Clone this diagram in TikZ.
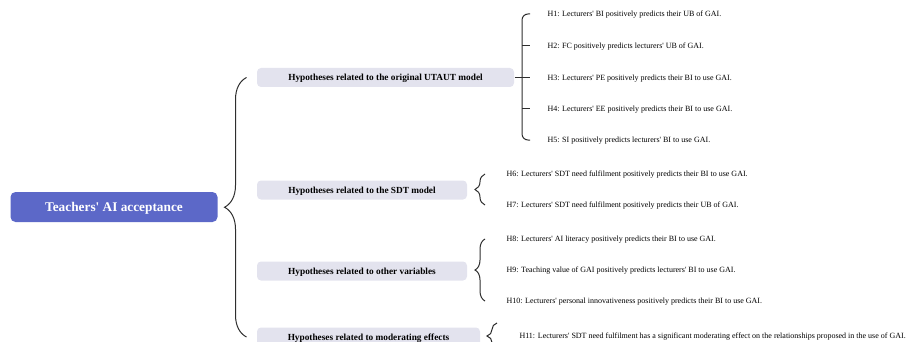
\documentclass[tikz,border=0pt]{standalone}
\usepackage{fontspec}
\setmainfont{Liberation Serif}[Ligatures=TeXOff]
\usetikzlibrary{decorations.pathreplacing,positioning}
\definecolor{rootblue}{HTML}{5C68C8}
\definecolor{hypgray}{HTML}{E3E3EE}
\definecolor{linegray}{HTML}{2E2E2E}

\begin{document}
\begin{tikzpicture}[x=1pt,y=-1pt,line width=1pt,
    rootbox/.style={fill=rootblue,rounded corners=5pt,minimum width=207pt,
      minimum height=30pt,text depth=0pt,text=white,font=\fontsize{13.3}{15}\selectfont\bfseries},
    hypbox/.style={fill=hypgray,rounded corners=4pt,minimum height=19pt,
      text depth=0pt,font=\fontsize{9.3}{11}\selectfont\bfseries},
    hyp/.style={anchor=west,inner sep=0pt,text depth=0pt,font=\fontsize{8}{10}\selectfont},
    bracket/.style={draw=linegray,decorate,decoration={brace,amplitude=#1}},
    link/.style={draw=linegray}]
  \useasboundingbox (0,0) rectangle (909,342);

  \node[rootbox] (root) at (114,207) {Teachers' AI acceptance};

  \node[hypbox,minimum width=257pt] (utaut) at (385.5,77.5)
    {Hypotheses related to the original UTAUT model};
  \node[hypbox,minimum width=210pt] (sdt) at (362,190)
    {Hypotheses related to the SDT model};
  \node[hypbox,minimum width=210pt] (other) at (362,271)
    {Hypotheses related to other variables};
  \node[hypbox,minimum width=223pt] (moder) at (368.5,337)
    {Hypotheses related to moderating effects};

  \node[hyp] (h1) at (547,14) {H1: Lecturers' BI positively predicts their UB of GAI.};
  \node[hyp] (h2) at (547,46) {H2: FC positively predicts lecturers' UB of GAI.};
  \node[hyp] (h3) at (547,77.5) {H3: Lecturers' PE positively predicts their BI to use GAI.};
  \node[hyp] (h4) at (547,109) {H4: Lecturers' EE positively predicts their BI to use GAI.};
  \node[hyp] (h5) at (547,140) {H5: SI positively predicts lecturers' BI to use GAI.};
  \node[hyp] (h6) at (506,174) {H6: Lecturers' SDT need fulfilment positively predicts their BI to use GAI.};
  \node[hyp] (h7) at (506,205) {H7: Lecturers' SDT need fulfilment positively predicts their UB of GAI.};
  \node[hyp] (h8) at (506,239) {H8: Lecturers' AI literacy positively predicts their BI to use GAI.};
  \node[hyp] (h9) at (506,270) {H9: Teaching value of GAI positively predicts lecturers' BI to use GAI.};
  \node[hyp] (h10) at (506,301) {H10: Lecturers' personal innovativeness positively predicts their BI to use GAI.};
  \node[hyp] (h11) at (519,336) {H11: Lecturers' SDT need fulfilment has a significant moderating effect on the relationships proposed in the use of GAI.};

  % root to the four groups
  \draw[bracket=22pt] ([xshift=-10pt]moder.west) -- ([xshift=-10pt]utaut.west);

  % UTAUT comb
  \draw[link,rounded corners=6pt] ([xshift=-17pt]h1.west) -| ([xshift=-25pt]h3.west)
    |- ([xshift=-17pt]h5.west);
  \draw[link] ([xshift=-25pt]h2.west) -- ([xshift=-17pt]h2.west);
  \draw[link] ([xshift=-25pt]h4.west) -- ([xshift=-17pt]h4.west);
  \draw[link] (utaut.east) -- ([xshift=-17pt]h3.west);

  % other groups
  \draw[bracket=10pt] ([xshift=-21pt]h7.west) -- ([xshift=-21pt]h6.west);
  \draw[bracket=10pt] ([xshift=-21pt]h10.west) -- ([xshift=-21pt]h8.west);
  \draw[bracket=10pt] ([shift={(-22,13)}]h11.west) -- ([shift={(-22,-13)}]h11.west);
\end{tikzpicture}
\end{document}
